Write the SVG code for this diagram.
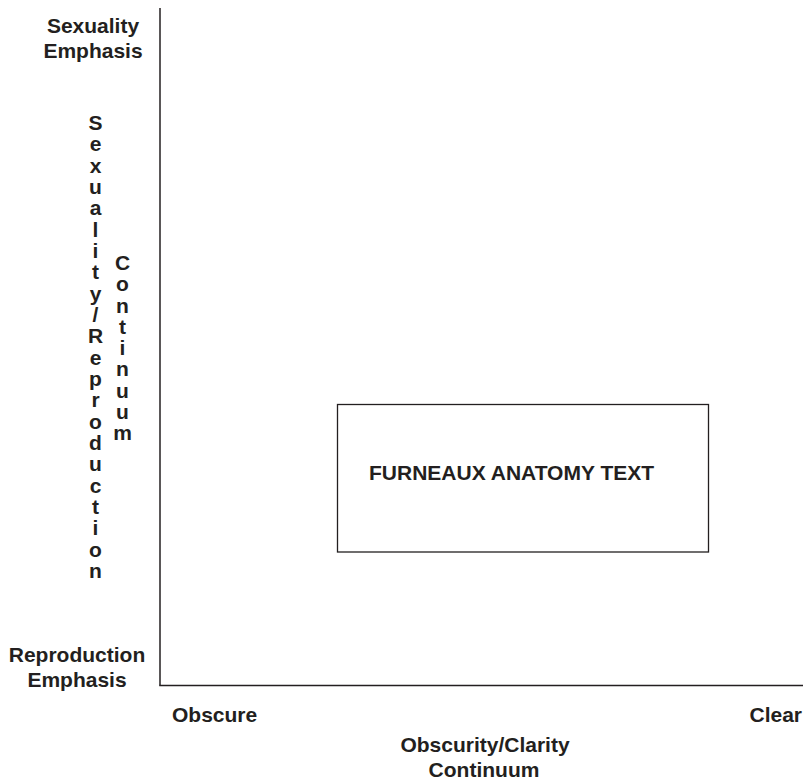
<svg xmlns="http://www.w3.org/2000/svg" width="806" height="781" viewBox="0 0 806 781">
<style>
text{font-family:"Liberation Sans",Arial,sans-serif;font-weight:bold;font-size:21px;fill:#231f20}
.m{text-anchor:middle}
.ax{stroke:#231f20;stroke-width:1.5;fill:none}
</style>
<rect width="806" height="781" fill="#fff"/>
<g id="axes" class="ax">
<line x1="160" y1="8" x2="160" y2="685.5"/>
<line x1="159.25" y1="685.5" x2="803" y2="685.5"/>
</g>
<g id="y-labels">
<text class="m" x="93" y="32.5">Sexuality</text>
<text class="m" x="93" y="58">Emphasis</text>
<text class="m" x="77" y="661.5">Reproduction</text>
<text class="m" x="77" y="686.5">Emphasis</text>
<text class="m" font-size="20"><tspan x="95.5" y="130">S</tspan><tspan x="95.5" dy="21.33">e</tspan><tspan x="95.5" dy="21.33">x</tspan><tspan x="95.5" dy="21.33">u</tspan><tspan x="95.5" dy="21.33">a</tspan><tspan x="95.5" dy="21.33">l</tspan><tspan x="95.5" dy="21.33">i</tspan><tspan x="95.5" dy="21.33">t</tspan><tspan x="95.5" dy="21.33">y</tspan><tspan x="95.5" dy="21.33">/</tspan><tspan x="95.5" dy="21.33">R</tspan><tspan x="95.5" dy="21.33">e</tspan><tspan x="95.5" dy="21.33">p</tspan><tspan x="95.5" dy="21.33">r</tspan><tspan x="95.5" dy="21.33">o</tspan><tspan x="95.5" dy="21.33">d</tspan><tspan x="95.5" dy="21.33">u</tspan><tspan x="95.5" dy="21.33">c</tspan><tspan x="95.5" dy="21.33">t</tspan><tspan x="95.5" dy="21.33">i</tspan><tspan x="95.5" dy="21.33">o</tspan><tspan x="95.5" dy="21.33">n</tspan></text>
<text class="m" font-size="20"><tspan x="122.5" y="270">C</tspan><tspan x="122.5" dy="21.25">o</tspan><tspan x="122.5" dy="21.25">n</tspan><tspan x="122.5" dy="21.25">t</tspan><tspan x="122.5" dy="21.25">i</tspan><tspan x="122.5" dy="21.25">n</tspan><tspan x="122.5" dy="21.25">u</tspan><tspan x="122.5" dy="21.25">u</tspan><tspan x="122.5" dy="21.25">m</tspan></text>
</g>
<g id="x-labels">
<text x="172" y="722">Obscure</text>
<text x="802" y="722" text-anchor="end">Clear</text>
<text class="m" x="485" y="751.5">Obscurity/Clarity</text>
<text class="m" x="484" y="776.5">Continuum</text>
</g>
<g id="furneaux">
<rect x="337.5" y="404.5" width="371" height="147.5" fill="none" stroke="#231f20" stroke-width="1.3"/>
<text x="369" y="480">FURNEAUX ANATOMY TEXT</text>
</g>
</svg>
